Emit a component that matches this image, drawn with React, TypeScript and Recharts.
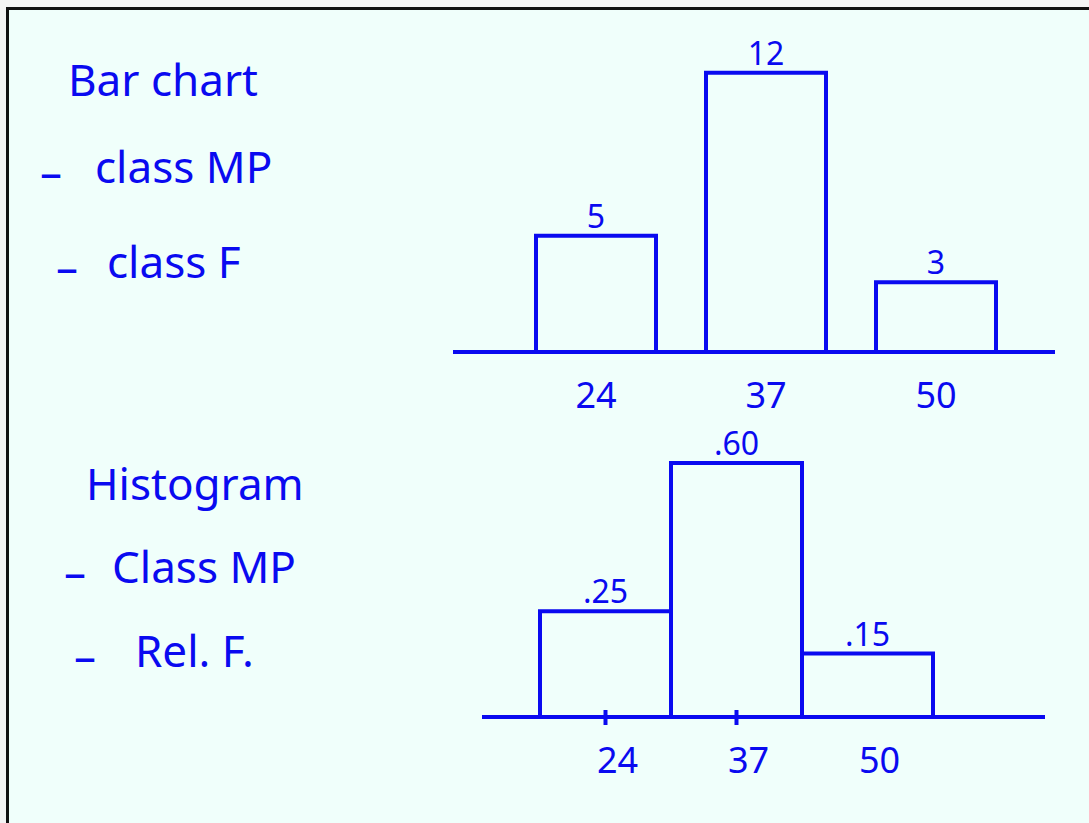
import React from 'react';
import { BarChart, Bar, XAxis, YAxis, LabelList } from 'recharts';

const INK = '#0a0af0';
const PAPER = '#f0fffb';
const FONT = '"Noto Sans", sans-serif';

// bar chart: class midpoint vs class frequency
const barMidpoints = ['24', '37', '50'];
const barFrequency = [5, 12, 3];

// histogram: class midpoint vs relative frequency
const histMidpoints = ['24', '37', '50'];
const histRelFrequency = [0.25, 0.6, 0.15];

// notes written beside the charts
const barNotes = ['Bar chart', 'class MP', 'class F'];
const histNotes = ['Histogram', 'Class MP', 'Rel. F.'];

const barData = barMidpoints.map((mp, i) => ({ mp, f: barFrequency[i] }));
const histData = histMidpoints.map((mp, i) => ({ mp, rf: histRelFrequency[i] }));

const relLabel = (v: any) => Number(v).toFixed(2).replace(/^0/, '');

const MidTick = (props: any) => {
  const { x, y, payload, index, dx = 0, dy = 56, marks = 0 } = props;
  return (
    <g>
      {index < marks && (
        <line x1={x} x2={x} y1={y - 7} y2={y + 8} stroke={INK} strokeWidth={4} />
      )}
      <text x={x + dx} y={y + dy} textAnchor="middle" fill={INK} fontSize={36} fontFamily={FONT}>
        {payload.value}
      </text>
    </g>
  );
};

const labelStyle = { fill: INK, fontSize: 32, fontFamily: FONT };

const Note = ({ x, y, dashX, text }: { x: number; y: number; dashX?: number; text: string }) => (
  <g fill={INK} fontFamily={FONT} fontSize={44}>
    {dashX !== undefined && <text x={dashX} y={y + 5}>–</text>}
    <text x={x} y={y}>{text}</text>
  </g>
);

export default function App() {
  return (
    <div style={{ position: 'absolute', left: 0, top: 0, width: 1089, height: 823, overflow: 'hidden', background: '#f4f4f4' }}>
      <div
        style={{
          position: 'absolute',
          left: 6,
          top: 7,
          width: 1100,
          height: 830,
          background: PAPER,
          borderTop: '3px solid #111',
          borderLeft: '3px solid #111',
        }}
      />

      <svg width={1089} height={823} style={{ position: 'absolute', left: 0, top: 0 }}>
        <Note x={68} y={96} text={barNotes[0]} />
        <Note x={95} y={183} dashX={40} text={barNotes[1]} />
        <Note x={107} y={278} dashX={56} text={barNotes[2]} />
        <Note x={86} y={500} text={histNotes[0]} />
        <Note x={112} y={583} dashX={64} text={histNotes[1]} />
        <Note x={135} y={667} dashX={74} text={histNotes[2]} />
      </svg>

      <div style={{ position: 'absolute', left: 440, top: 20 }}>
        <BarChart width={630} height={420} data={barData} margin={{ top: 47, right: 15, bottom: 28, left: 13 }}>
          <XAxis
            dataKey="mp"
            height={60}
            padding={{ left: 58, right: 34 }}
            axisLine={{ stroke: INK, strokeWidth: 4 }}
            tickLine={false}
            tickSize={0}
            tickMargin={0}
            tick={<MidTick />}
          />
          <YAxis hide domain={[0, 12.25]} />
          <Bar dataKey="f" barSize={120} fill="none" stroke={INK} strokeWidth={4} isAnimationActive={false}>
            <LabelList dataKey="f" position="top" offset={8} style={labelStyle} />
          </Bar>
        </BarChart>
      </div>

      <div style={{ position: 'absolute', left: 470, top: 400 }}>
        <BarChart
          width={600}
          height={420}
          data={histData}
          barCategoryGap={0}
          margin={{ top: 63, right: 25, bottom: 43, left: 12 }}
        >
          <XAxis
            dataKey="mp"
            height={60}
            padding={{ left: 58, right: 112 }}
            axisLine={{ stroke: INK, strokeWidth: 4 }}
            tickLine={false}
            tickSize={0}
            tickMargin={0}
            tick={<MidTick dx={12} marks={2} />}
          />
          <YAxis hide domain={[0, 0.6]} />
          <Bar dataKey="rf" fill="none" stroke={INK} strokeWidth={4} isAnimationActive={false}>
            <LabelList dataKey="rf" position="top" offset={8} formatter={relLabel} style={labelStyle} />
          </Bar>
        </BarChart>
      </div>
    </div>
  );
}
